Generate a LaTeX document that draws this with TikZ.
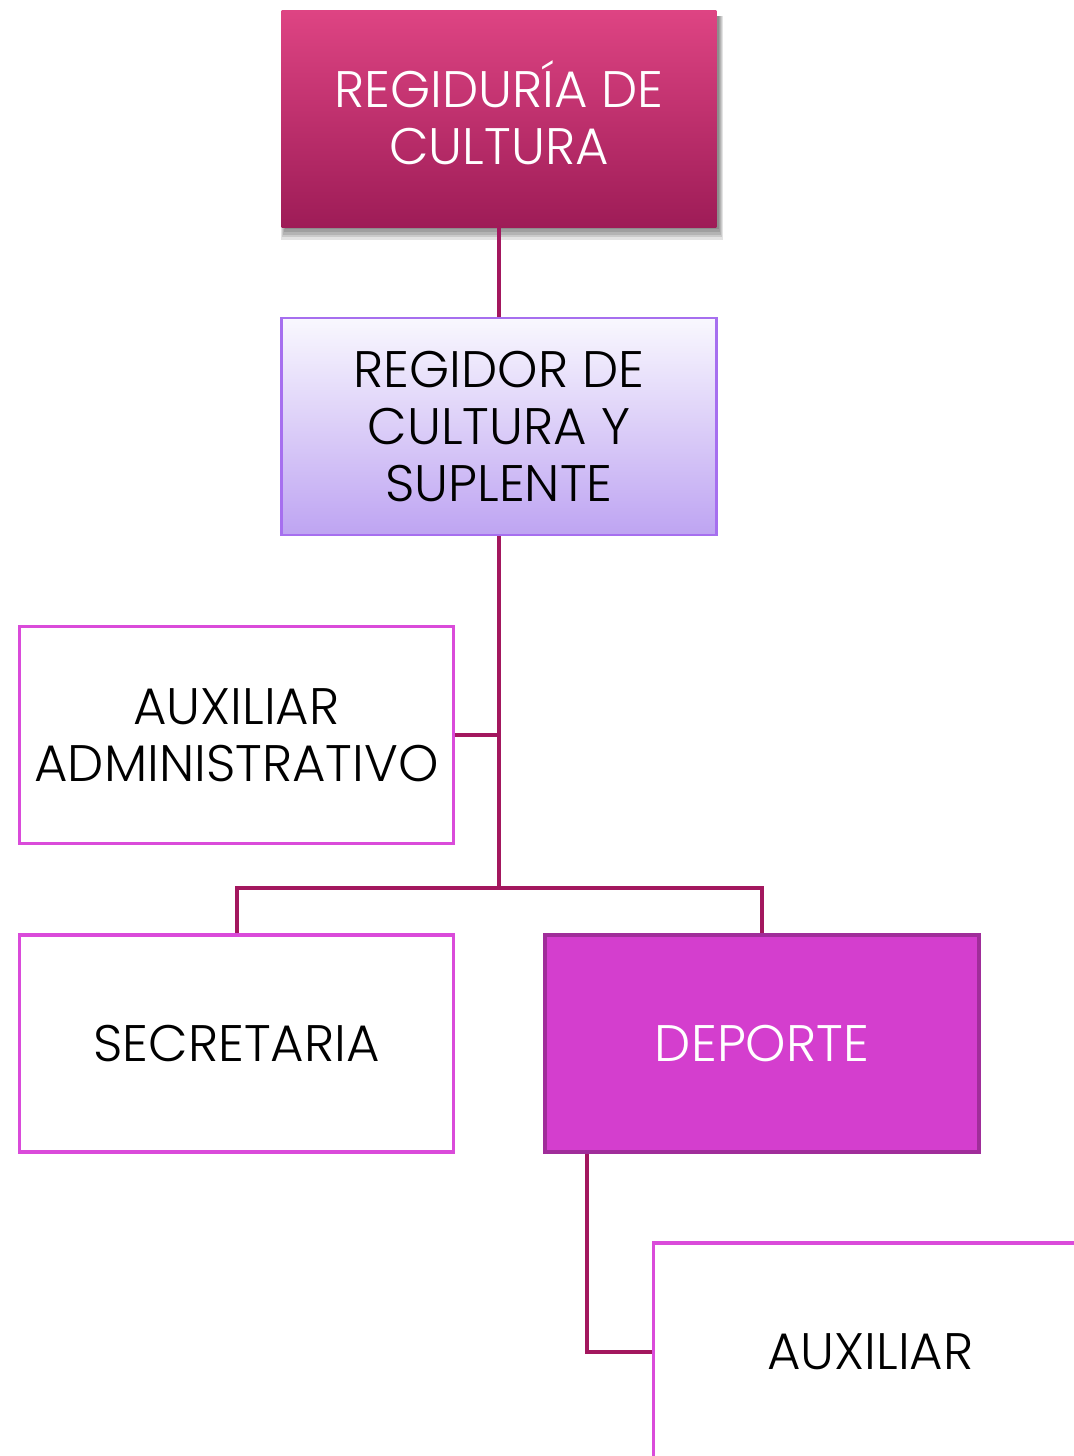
\documentclass[tikz,border=0pt]{standalone}
\usepackage{fontspec}
\setmainfont{Poppins}[UprightFont=* Light]
\usetikzlibrary{shadows}
\definecolor{conn}{HTML}{A3175E}
\definecolor{topA}{HTML}{DE4483}
\definecolor{topB}{HTML}{9E1C57}
\definecolor{supA}{HTML}{F9F8FE}
\definecolor{supB}{HTML}{BEA4F2}
\definecolor{supBorder}{HTML}{A66FEF}
\definecolor{magBorder}{HTML}{DA4BDA}
\definecolor{depFill}{HTML}{D43ECE}
\definecolor{depBorder}{HTML}{A02D9A}
\tikzset{
  box/.style={rectangle, minimum width=326pt, minimum height=162.75pt, inner sep=0pt,
    align=center, font=\fontsize{38.5}{42.75}\selectfont},
  plainbox/.style={box, draw=magBorder, line width=2.4pt, fill=white, text=black},
  conn/.style={draw=conn, line width=3pt},
  shadowlayer/.style={fill=black, opacity=0.11}
}
\begin{document}
\begin{tikzpicture}[x=0.75pt,y=-0.75pt]
\useasboundingbox (0,0) rectangle (1074,1456);
\clip (0,0) rectangle (1074,1456);
\fill[white] (0,0) rectangle (1074,1456);
\coordinate (hub) at (499,888);
% soft shadow behind the top box
\foreach \i in {0,2,4,6,8} {
  \fill[shadowlayer] (285-\i/2,16) rectangle (719+\i/2,229+\i*1.4);
}
\node[box, top color=topA, bottom color=topB, text=white]
  (top) at (499,118.5) {REGIDUR\smash{Í}A DE\\CULTURA};
\node[box, top color=supA, bottom color=supB, draw=supBorder, line width=2pt, text=black]
  (sup) at (499,426.5) {REGIDOR DE\\CULTURA Y\\SUPLENTE};
\node[plainbox] (aux) at (236.5,735) {AUXILIAR\\ADMINISTRATIVO};
\node[plainbox] (sec) at (236.5,1043.5) {SECRETARIA};
\node[box, fill=depFill, draw=depBorder, line width=3pt, text=white] (dep) at (762,1043.5) {DEPORTE};
\node[plainbox] (aux2) at (870.5,1351.5) {AUXILIAR};
\draw[conn] (top.south) -- (sup.north);
\draw[conn] (sup.south) -- (hub);
\draw[conn] (aux.east) -- (aux.east -| hub);
\draw[conn] (sec.north) |- (hub) -| (dep.north);
\coordinate (dl) at ([xshift=33pt]dep.south west);
\draw[conn] (dl) |- (aux2.west);
\end{tikzpicture}
\end{document}
